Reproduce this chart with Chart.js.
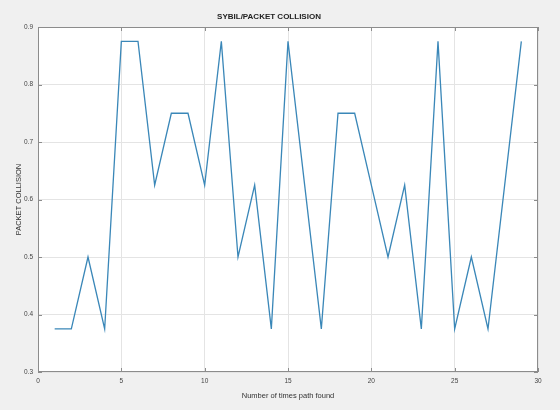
<!DOCTYPE html>
<html>
<head>
<meta charset="utf-8">
<script src="https://cdn.jsdelivr.net/npm/chart.js@4/dist/chart.umd.min.js"></script>
<style>
  html, body { margin: 0; padding: 0; background: #f0f0f0; }
  #wrap { width: 560px; height: 410px; }
</style>
</head>
<body>
<div id="wrap"><canvas id="c" width="560" height="410"></canvas></div>
<script>
// Run index and packet-collision ratio recorded for each path discovery
const pathCounts = [1, 2, 3, 4, 5, 6, 7, 8, 9, 10, 11, 12, 13, 14, 15, 16, 17, 18, 19, 20, 21, 22, 23, 24, 25, 26, 27, 28, 29];
const collision  = [0.375, 0.375, 0.5, 0.375, 0.875, 0.875, 0.625, 0.75, 0.75, 0.625, 0.875, 0.5, 0.625, 0.375, 0.875,
                    0.625, 0.375, 0.75, 0.75, 0.625, 0.5, 0.625, 0.375, 0.875, 0.375, 0.5, 0.375, 0.625, 0.875];
const xTicks = [0, 5, 10, 15, 20, 25, 30];
const yTicks = [0.3, 0.4, 0.5, 0.6, 0.7, 0.8, 0.9];

const points = pathCounts.map((x, i) => ({ x: x, y: collision[i] }));

// White plot area, box outline and inward tick marks on all four sides
const axesBox = {
  id: 'axesBox',
  beforeDraw(chart) {
    const { ctx, chartArea: a } = chart;
    ctx.save();
    ctx.fillStyle = '#ffffff';
    ctx.fillRect(a.left, a.top, a.right - a.left, a.bottom - a.top);
    ctx.restore();
  },
  afterDraw(chart) {
    const { ctx, chartArea: a, scales } = chart;
    ctx.save();
    ctx.strokeStyle = '#8c8c8c';
    ctx.lineWidth = 1;
    ctx.strokeRect(a.left + 0.5, a.top + 0.5, a.right - a.left - 1, a.bottom - a.top - 1);
    const len = 4;
    ctx.beginPath();
    xTicks.forEach(v => {
      const px = Math.round(scales.x.getPixelForValue(v)) + 0.5;
      ctx.moveTo(px, a.bottom); ctx.lineTo(px, a.bottom - len);
      ctx.moveTo(px, a.top);    ctx.lineTo(px, a.top + len);
    });
    yTicks.forEach(v => {
      const py = Math.round(scales.y.getPixelForValue(v)) + 0.5;
      ctx.moveTo(a.left, py);  ctx.lineTo(a.left + len, py);
      ctx.moveTo(a.right, py); ctx.lineTo(a.right - len, py);
    });
    ctx.stroke();
    ctx.restore();
  }
};

new Chart(document.getElementById('c'), {
  type: 'line',
  data: {
    datasets: [{
      data: points,
      borderColor: '#3a87b8',
      borderWidth: 1.3,
      pointRadius: 0,
      tension: 0,
      fill: false
    }]
  },
  options: {
    responsive: false,
    animation: false,
    layout: { padding: { left: 0, right: 22, top: 0, bottom: 0 } },
    plugins: {
      legend: { display: false },
      tooltip: { enabled: false },
      title: {
        display: true,
        text: 'SYBIL/PACKET COLLISION',
        color: '#222222',
        font: { family: 'Liberation Sans', size: 8, weight: 'bold', lineHeight: 1.2 },
        padding: { top: 12, bottom: 5.4 }
      }
    },
    scales: {
      x: {
        type: 'linear',
        min: 0, max: 30,
        afterBuildTicks(scale) { scale.ticks = xTicks.map(v => ({ value: v })); },
        afterFit(scale) { scale.height = 38; },
        grid: { color: '#e4e4e4', drawTicks: false },
        border: { display: false },
        ticks: {
          padding: 5,
          color: '#444444',
          font: { family: 'Liberation Sans', size: 6.5 },
          maxRotation: 0
        },
        title: {
          display: true,
          text: 'Number of times path found',
          color: '#333333',
          font: { family: 'Liberation Sans', size: 7.5 },
          padding: { top: 10, bottom: 10 }
        }
      },
      y: {
        type: 'linear',
        min: 0.3, max: 0.9,
        afterBuildTicks(scale) { scale.ticks = yTicks.map(v => ({ value: v })); },
        afterFit(scale) { scale.width = 38; },
        grid: { color: '#e4e4e4', drawTicks: false },
        border: { display: false },
        ticks: {
          padding: 5,
          color: '#444444',
          font: { family: 'Liberation Sans', size: 6.5 },
          callback: v => v.toFixed(1)
        },
        title: {
          display: true,
          text: 'PACKET COLLISION',
          color: '#333333',
          font: { family: 'Liberation Sans', size: 7.5 },
          padding: { top: 14, bottom: 14 }
        }
      }
    }
  },
  plugins: [axesBox]
});
</script>
</body>
</html>
